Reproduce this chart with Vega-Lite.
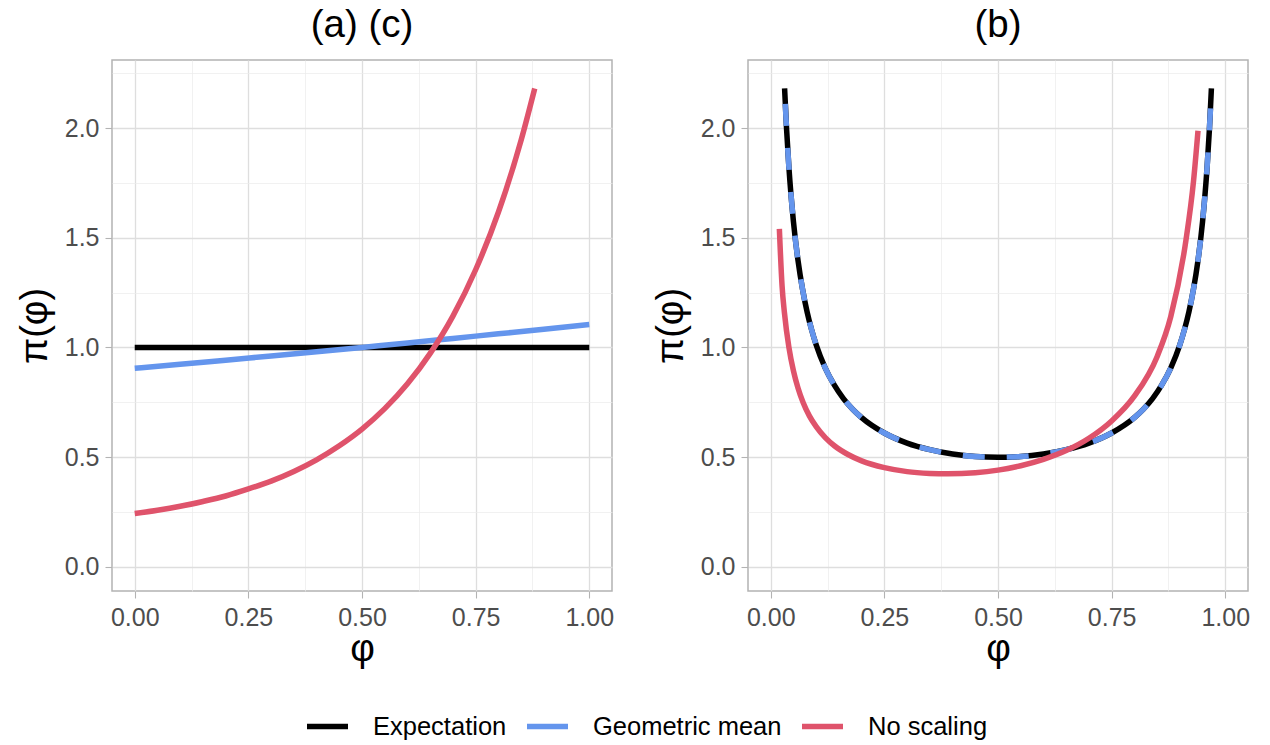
{
  "$schema": "https://vega.github.io/schema/vega-lite/v6.json",
  "padding": {"left": 15, "top": 4, "right": 5, "bottom": 0},
  "background": "white",
  "datasets": {
    "d": [
      {"panel": "a", "series": "Expectation", "phi": 0, "pi": 1},
      {"panel": "a", "series": "Expectation", "phi": 1, "pi": 1},
      {"panel": "a", "series": "Geometric mean", "phi": 0, "pi": 0.905},
      {"panel": "a", "series": "Geometric mean", "phi": 0.1, "pi": 0.923},
      {"panel": "a", "series": "Geometric mean", "phi": 0.2, "pi": 0.942},
      {"panel": "a", "series": "Geometric mean", "phi": 0.3, "pi": 0.961},
      {"panel": "a", "series": "Geometric mean", "phi": 0.4, "pi": 0.98},
      {"panel": "a", "series": "Geometric mean", "phi": 0.5, "pi": 1.0},
      {"panel": "a", "series": "Geometric mean", "phi": 0.6, "pi": 1.02},
      {"panel": "a", "series": "Geometric mean", "phi": 0.7, "pi": 1.041},
      {"panel": "a", "series": "Geometric mean", "phi": 0.8, "pi": 1.062},
      {"panel": "a", "series": "Geometric mean", "phi": 0.9, "pi": 1.083},
      {"panel": "a", "series": "Geometric mean", "phi": 1.0, "pi": 1.105},
      {"panel": "a", "series": "No scaling", "phi": 0, "pi": 0.243},
      {"panel": "a", "series": "No scaling", "phi": 0.05, "pi": 0.258},
      {"panel": "a", "series": "No scaling", "phi": 0.1, "pi": 0.276},
      {"panel": "a", "series": "No scaling", "phi": 0.15, "pi": 0.298},
      {"panel": "a", "series": "No scaling", "phi": 0.2, "pi": 0.323},
      {"panel": "a", "series": "No scaling", "phi": 0.25, "pi": 0.355},
      {"panel": "a", "series": "No scaling", "phi": 0.3, "pi": 0.391},
      {"panel": "a", "series": "No scaling", "phi": 0.35, "pi": 0.435},
      {"panel": "a", "series": "No scaling", "phi": 0.4, "pi": 0.488},
      {"panel": "a", "series": "No scaling", "phi": 0.45, "pi": 0.552},
      {"panel": "a", "series": "No scaling", "phi": 0.5, "pi": 0.628},
      {"panel": "a", "series": "No scaling", "phi": 0.55, "pi": 0.721},
      {"panel": "a", "series": "No scaling", "phi": 0.6, "pi": 0.834},
      {"panel": "a", "series": "No scaling", "phi": 0.65, "pi": 0.973},
      {"panel": "a", "series": "No scaling", "phi": 0.7, "pi": 1.143},
      {"panel": "a", "series": "No scaling", "phi": 0.75, "pi": 1.354},
      {"panel": "a", "series": "No scaling", "phi": 0.8, "pi": 1.616},
      {"panel": "a", "series": "No scaling", "phi": 0.85, "pi": 1.944},
      {"panel": "a", "series": "No scaling", "phi": 0.88, "pi": 2.18},

      {"panel": "b", "series": "Expectation", "phi": 0.0305, "pi": 2.181},
      {"panel": "b", "series": "Expectation", "phi": 0.035, "pi": 1.99},
      {"panel": "b", "series": "Expectation", "phi": 0.04, "pi": 1.821},
      {"panel": "b", "series": "Expectation", "phi": 0.05, "pi": 1.573},
      {"panel": "b", "series": "Expectation", "phi": 0.06, "pi": 1.397},
      {"panel": "b", "series": "Expectation", "phi": 0.07, "pi": 1.265},
      {"panel": "b", "series": "Expectation", "phi": 0.08, "pi": 1.162},
      {"panel": "b", "series": "Expectation", "phi": 0.09, "pi": 1.08},
      {"panel": "b", "series": "Expectation", "phi": 0.1, "pi": 1.012},
      {"panel": "b", "series": "Expectation", "phi": 0.12, "pi": 0.906},
      {"panel": "b", "series": "Expectation", "phi": 0.14, "pi": 0.828},
      {"panel": "b", "series": "Expectation", "phi": 0.16, "pi": 0.767},
      {"panel": "b", "series": "Expectation", "phi": 0.18, "pi": 0.719},
      {"panel": "b", "series": "Expectation", "phi": 0.2, "pi": 0.68},
      {"panel": "b", "series": "Expectation", "phi": 0.25, "pi": 0.61},
      {"panel": "b", "series": "Expectation", "phi": 0.3, "pi": 0.564},
      {"panel": "b", "series": "Expectation", "phi": 0.35, "pi": 0.534},
      {"panel": "b", "series": "Expectation", "phi": 0.4, "pi": 0.514},
      {"panel": "b", "series": "Expectation", "phi": 0.45, "pi": 0.503},
      {"panel": "b", "series": "Expectation", "phi": 0.5, "pi": 0.5},
      {"panel": "b", "series": "Expectation", "phi": 0.55, "pi": 0.503},
      {"panel": "b", "series": "Expectation", "phi": 0.6, "pi": 0.514},
      {"panel": "b", "series": "Expectation", "phi": 0.65, "pi": 0.534},
      {"panel": "b", "series": "Expectation", "phi": 0.7, "pi": 0.564},
      {"panel": "b", "series": "Expectation", "phi": 0.75, "pi": 0.61},
      {"panel": "b", "series": "Expectation", "phi": 0.8, "pi": 0.68},
      {"panel": "b", "series": "Expectation", "phi": 0.82, "pi": 0.719},
      {"panel": "b", "series": "Expectation", "phi": 0.84, "pi": 0.767},
      {"panel": "b", "series": "Expectation", "phi": 0.86, "pi": 0.828},
      {"panel": "b", "series": "Expectation", "phi": 0.88, "pi": 0.906},
      {"panel": "b", "series": "Expectation", "phi": 0.9, "pi": 1.012},
      {"panel": "b", "series": "Expectation", "phi": 0.91, "pi": 1.08},
      {"panel": "b", "series": "Expectation", "phi": 0.92, "pi": 1.162},
      {"panel": "b", "series": "Expectation", "phi": 0.93, "pi": 1.265},
      {"panel": "b", "series": "Expectation", "phi": 0.94, "pi": 1.397},
      {"panel": "b", "series": "Expectation", "phi": 0.95, "pi": 1.573},
      {"panel": "b", "series": "Expectation", "phi": 0.96, "pi": 1.821},
      {"panel": "b", "series": "Expectation", "phi": 0.965, "pi": 1.99},
      {"panel": "b", "series": "Expectation", "phi": 0.9695, "pi": 2.181},

      {"panel": "b", "series": "Geometric mean", "phi": 0.032, "pi": 2.11},
      {"panel": "b", "series": "Geometric mean", "phi": 0.035, "pi": 1.99},
      {"panel": "b", "series": "Geometric mean", "phi": 0.04, "pi": 1.821},
      {"panel": "b", "series": "Geometric mean", "phi": 0.05, "pi": 1.573},
      {"panel": "b", "series": "Geometric mean", "phi": 0.06, "pi": 1.397},
      {"panel": "b", "series": "Geometric mean", "phi": 0.07, "pi": 1.265},
      {"panel": "b", "series": "Geometric mean", "phi": 0.08, "pi": 1.162},
      {"panel": "b", "series": "Geometric mean", "phi": 0.09, "pi": 1.08},
      {"panel": "b", "series": "Geometric mean", "phi": 0.1, "pi": 1.012},
      {"panel": "b", "series": "Geometric mean", "phi": 0.12, "pi": 0.906},
      {"panel": "b", "series": "Geometric mean", "phi": 0.14, "pi": 0.828},
      {"panel": "b", "series": "Geometric mean", "phi": 0.16, "pi": 0.767},
      {"panel": "b", "series": "Geometric mean", "phi": 0.18, "pi": 0.719},
      {"panel": "b", "series": "Geometric mean", "phi": 0.2, "pi": 0.68},
      {"panel": "b", "series": "Geometric mean", "phi": 0.25, "pi": 0.61},
      {"panel": "b", "series": "Geometric mean", "phi": 0.3, "pi": 0.564},
      {"panel": "b", "series": "Geometric mean", "phi": 0.35, "pi": 0.534},
      {"panel": "b", "series": "Geometric mean", "phi": 0.4, "pi": 0.514},
      {"panel": "b", "series": "Geometric mean", "phi": 0.45, "pi": 0.503},
      {"panel": "b", "series": "Geometric mean", "phi": 0.5, "pi": 0.5},
      {"panel": "b", "series": "Geometric mean", "phi": 0.55, "pi": 0.503},
      {"panel": "b", "series": "Geometric mean", "phi": 0.6, "pi": 0.514},
      {"panel": "b", "series": "Geometric mean", "phi": 0.65, "pi": 0.534},
      {"panel": "b", "series": "Geometric mean", "phi": 0.7, "pi": 0.564},
      {"panel": "b", "series": "Geometric mean", "phi": 0.75, "pi": 0.61},
      {"panel": "b", "series": "Geometric mean", "phi": 0.8, "pi": 0.68},
      {"panel": "b", "series": "Geometric mean", "phi": 0.82, "pi": 0.719},
      {"panel": "b", "series": "Geometric mean", "phi": 0.84, "pi": 0.767},
      {"panel": "b", "series": "Geometric mean", "phi": 0.86, "pi": 0.828},
      {"panel": "b", "series": "Geometric mean", "phi": 0.88, "pi": 0.906},
      {"panel": "b", "series": "Geometric mean", "phi": 0.9, "pi": 1.012},
      {"panel": "b", "series": "Geometric mean", "phi": 0.91, "pi": 1.08},
      {"panel": "b", "series": "Geometric mean", "phi": 0.92, "pi": 1.162},
      {"panel": "b", "series": "Geometric mean", "phi": 0.93, "pi": 1.265},
      {"panel": "b", "series": "Geometric mean", "phi": 0.94, "pi": 1.397},
      {"panel": "b", "series": "Geometric mean", "phi": 0.95, "pi": 1.573},
      {"panel": "b", "series": "Geometric mean", "phi": 0.96, "pi": 1.821},
      {"panel": "b", "series": "Geometric mean", "phi": 0.965, "pi": 1.99},
      {"panel": "b", "series": "Geometric mean", "phi": 0.968, "pi": 2.11},

      {"panel": "b", "series": "No scaling", "phi": 0.019, "pi": 1.54},
      {"panel": "b", "series": "No scaling", "phi": 0.025, "pi": 1.279},
      {"panel": "b", "series": "No scaling", "phi": 0.03, "pi": 1.161},
      {"panel": "b", "series": "No scaling", "phi": 0.04, "pi": 1.0},
      {"panel": "b", "series": "No scaling", "phi": 0.05, "pi": 0.893},
      {"panel": "b", "series": "No scaling", "phi": 0.06, "pi": 0.815},
      {"panel": "b", "series": "No scaling", "phi": 0.071, "pi": 0.75},
      {"panel": "b", "series": "No scaling", "phi": 0.085, "pi": 0.688},
      {"panel": "b", "series": "No scaling", "phi": 0.1, "pi": 0.639},
      {"panel": "b", "series": "No scaling", "phi": 0.12, "pi": 0.589},
      {"panel": "b", "series": "No scaling", "phi": 0.14, "pi": 0.552},
      {"panel": "b", "series": "No scaling", "phi": 0.17, "pi": 0.512},
      {"panel": "b", "series": "No scaling", "phi": 0.2, "pi": 0.483},
      {"panel": "b", "series": "No scaling", "phi": 0.25, "pi": 0.452},
      {"panel": "b", "series": "No scaling", "phi": 0.3, "pi": 0.434},
      {"panel": "b", "series": "No scaling", "phi": 0.35, "pi": 0.426},
      {"panel": "b", "series": "No scaling", "phi": 0.39, "pi": 0.424},
      {"panel": "b", "series": "No scaling", "phi": 0.45, "pi": 0.429},
      {"panel": "b", "series": "No scaling", "phi": 0.5, "pi": 0.441},
      {"panel": "b", "series": "No scaling", "phi": 0.55, "pi": 0.461},
      {"panel": "b", "series": "No scaling", "phi": 0.6, "pi": 0.49},
      {"panel": "b", "series": "No scaling", "phi": 0.65, "pi": 0.53},
      {"panel": "b", "series": "No scaling", "phi": 0.7, "pi": 0.586},
      {"panel": "b", "series": "No scaling", "phi": 0.75, "pi": 0.665},
      {"panel": "b", "series": "No scaling", "phi": 0.8, "pi": 0.778},
      {"panel": "b", "series": "No scaling", "phi": 0.85, "pi": 0.958},
      {"panel": "b", "series": "No scaling", "phi": 0.88, "pi": 1.14},
      {"panel": "b", "series": "No scaling", "phi": 0.9136, "pi": 1.49},
      {"panel": "b", "series": "No scaling", "phi": 0.93, "pi": 1.755},
      {"panel": "b", "series": "No scaling", "phi": 0.94, "pi": 1.988}
    ]
  },
  "data": {"name": "d"},
  "config": {
    "font": "Liberation Sans",
    "view": {"stroke": "#B3B3B3", "strokeWidth": 1.5},
    "axis": {
      "domain": false,
      "grid": true,
      "labelFont": "Liberation Sans",
      "labelFontSize": 25,
      "labelColor": "#4D4D4D",
      "titleFont": "Liberation Sans",
      "titleFontSize": 38,
      "titleColor": "#000000",
      "titleFontWeight": "normal",
      "tickColor": "#B3B3B3",
      "tickSize": 7,
      "tickWidth": 1.1,
      "labelOverlap": false,
      "labelFlush": false
    },
    "title": {"font": "Liberation Sans", "fontSize": 38.5, "fontWeight": "normal", "color": "#000000", "anchor": "middle", "offset": 15},
    "legend": {
      "symbolType": "stroke",
      "symbolSize": 1681,
      "symbolStrokeWidth": 5.5,
      "labelFont": "Liberation Sans",
      "labelFontSize": 25.5,
      "labelColor": "#000000",
      "labelLimit": 400,
      "labelOffset": 22,
      "columnPadding": 9
    }
  },
  "spacing": 36,
  "hconcat": [
    {
      "width": 500,
      "height": 531,
      "title": "(a) (c)",
      "encoding": {
        "x": {"field": "phi", "type": "quantitative", "scale": {"domain": [-0.05, 1.05], "nice": false, "zero": false},
          "axis": {"title": "φ", "values": [0, 0.125, 0.25, 0.375, 0.5, 0.625, 0.75, 0.875, 1], "format": ".2f",
            "labelExpr": "round(datum.value*8)%2==1 ? '' : datum.label",
            "tickOpacity": {"condition": {"test": "round(datum.value*8)%2==1", "value": 0}, "value": 1},
            "gridColor": {"condition": {"test": "round(datum.value*8)%2==1", "value": "#EBEBEB"}, "value": "#DEDEDE"},
            "gridWidth": {"condition": {"test": "round(datum.value*8)%2==1", "value": 0.7}, "value": 1.3},
            "labelPadding": 7, "titlePadding": 0}},
        "y": {"field": "pi", "type": "quantitative", "scale": {"domain": [-0.11, 2.31], "nice": false, "zero": false},
          "axis": {"title": "π(φ)", "values": [0, 0.25, 0.5, 0.75, 1, 1.25, 1.5, 1.75, 2, 2.25], "format": ".1f",
            "labelExpr": "round(datum.value*4)%2==1 ? '' : datum.label",
            "tickOpacity": {"condition": {"test": "round(datum.value*4)%2==1", "value": 0}, "value": 1},
            "gridColor": {"condition": {"test": "round(datum.value*4)%2==1", "value": "#EBEBEB"}, "value": "#DEDEDE"},
            "gridWidth": {"condition": {"test": "round(datum.value*4)%2==1", "value": 0.7}, "value": 1.3},
            "labelPadding": 6, "titlePadding": 10}}
      },
      "layer": [
        {"transform": [{"filter": "datum.panel == 'a' && datum.series == 'Expectation'"}],
         "mark": {"type": "line", "strokeWidth": 5.5, "strokeCap": "butt"},
         "encoding": {"color": {"field": "series", "type": "nominal",
           "scale": {"domain": ["Expectation", "Geometric mean", "No scaling"], "range": ["#000000", "#6495ED", "#DF536B"]},
           "legend": {"title": null, "orient": "none", "direction": "horizontal", "legendX": 192, "legendY": 643}}}},
        {"transform": [{"filter": "datum.panel == 'a' && datum.series == 'Geometric mean'"}],
         "mark": {"type": "line", "strokeWidth": 5.5, "strokeCap": "butt", "interpolate": "monotone"},
         "encoding": {"color": {"field": "series", "type": "nominal"}}},
        {"transform": [{"filter": "datum.panel == 'a' && datum.series == 'No scaling'"}],
         "mark": {"type": "line", "strokeWidth": 5.5, "strokeCap": "butt", "interpolate": "monotone"},
         "encoding": {"color": {"field": "series", "type": "nominal"}}}
      ]
    },
    {
      "width": 500,
      "height": 531,
      "title": "(b)",
      "encoding": {
        "x": {"field": "phi", "type": "quantitative", "scale": {"domain": [-0.05, 1.05], "nice": false, "zero": false},
          "axis": {"title": "φ", "values": [0, 0.125, 0.25, 0.375, 0.5, 0.625, 0.75, 0.875, 1], "format": ".2f",
            "labelExpr": "round(datum.value*8)%2==1 ? '' : datum.label",
            "tickOpacity": {"condition": {"test": "round(datum.value*8)%2==1", "value": 0}, "value": 1},
            "gridColor": {"condition": {"test": "round(datum.value*8)%2==1", "value": "#EBEBEB"}, "value": "#DEDEDE"},
            "gridWidth": {"condition": {"test": "round(datum.value*8)%2==1", "value": 0.7}, "value": 1.3},
            "labelPadding": 7, "titlePadding": 0}},
        "y": {"field": "pi", "type": "quantitative", "scale": {"domain": [-0.11, 2.31], "nice": false, "zero": false},
          "axis": {"title": "π(φ)", "values": [0, 0.25, 0.5, 0.75, 1, 1.25, 1.5, 1.75, 2, 2.25], "format": ".1f",
            "labelExpr": "round(datum.value*4)%2==1 ? '' : datum.label",
            "tickOpacity": {"condition": {"test": "round(datum.value*4)%2==1", "value": 0}, "value": 1},
            "gridColor": {"condition": {"test": "round(datum.value*4)%2==1", "value": "#EBEBEB"}, "value": "#DEDEDE"},
            "gridWidth": {"condition": {"test": "round(datum.value*4)%2==1", "value": 0.7}, "value": 1.3},
            "labelPadding": 6, "titlePadding": 10}}
      },
      "layer": [
        {"transform": [{"filter": "datum.panel == 'b' && datum.series == 'Expectation'"}],
         "mark": {"type": "line", "strokeWidth": 5.5, "strokeCap": "butt", "interpolate": "monotone"},
         "encoding": {"color": {"field": "series", "type": "nominal"}}},
        {"transform": [{"filter": "datum.panel == 'b' && datum.series == 'Geometric mean'"}],
         "mark": {"type": "line", "strokeWidth": 5.5, "strokeCap": "butt", "interpolate": "monotone", "strokeDash": [22, 22]},
         "encoding": {"color": {"field": "series", "type": "nominal"}}},
        {"transform": [{"filter": "datum.panel == 'b' && datum.series == 'No scaling'"}],
         "mark": {"type": "line", "strokeWidth": 5.5, "strokeCap": "butt", "interpolate": "monotone"},
         "encoding": {"color": {"field": "series", "type": "nominal"}}}
      ]
    }
  ]
}
